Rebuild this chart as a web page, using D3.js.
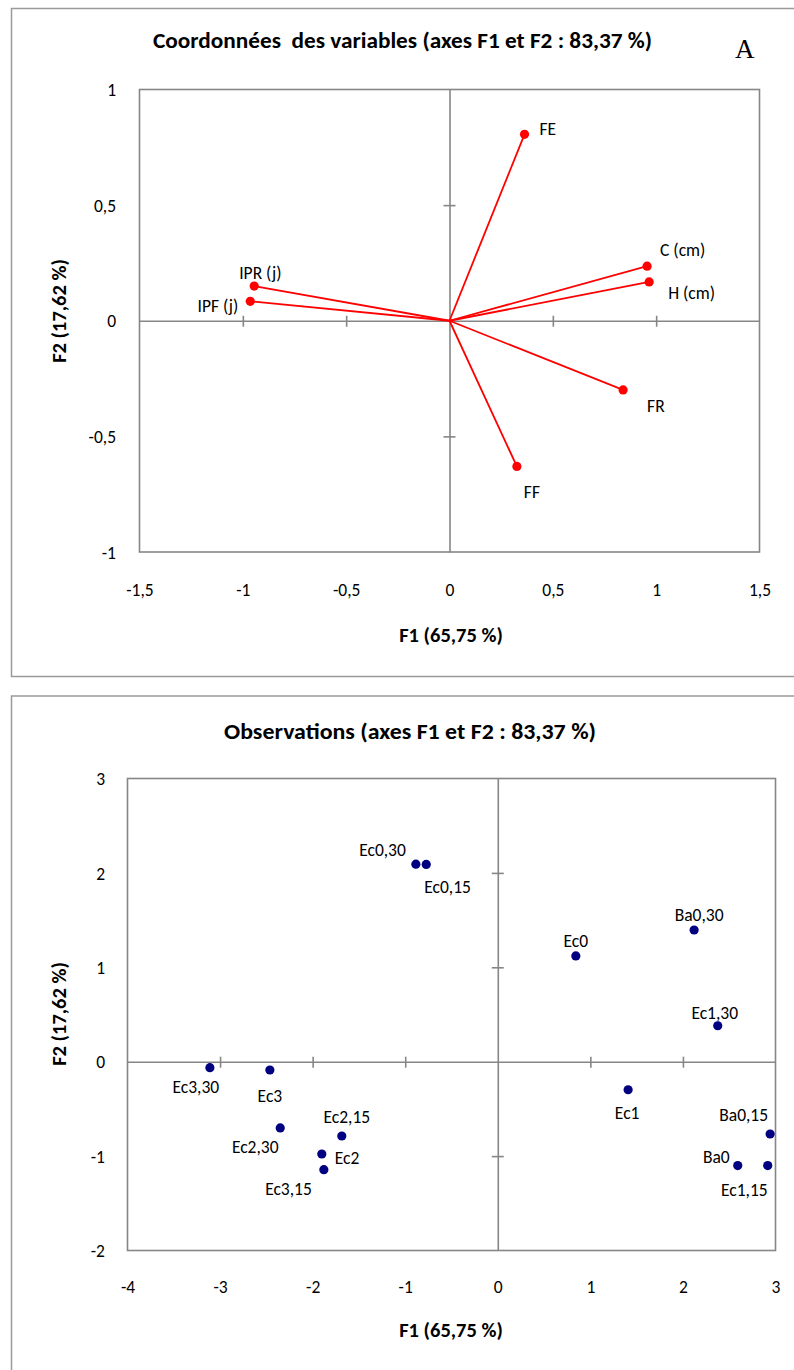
<!DOCTYPE html>
<html>
<head>
<meta charset="utf-8">
<script src="https://cdn.jsdelivr.net/npm/d3@7"></script>
<style>
  html, body { margin: 0; padding: 0; background: #fff; }
  svg { display: block; }
  text { font-family: Carlito, Calibri, "Open Sans", sans-serif; fill: #000; }
</style>
</head>
<body>
<svg id="chart" width="794" height="1370"></svg>
<script>
// ---------- DATA ----------
// Chart A: variable coordinates (correlation circle)
const varNames = ["FE", "C (cm)", "H (cm)", "FR", "FF", "IPR (j)", "IPF (j)"];
const varF1 = [0.363, 0.956, 0.966, 0.840, 0.326, -0.945, -0.964];
const varF2 = [0.806, 0.236, 0.168, -0.299, -0.630, 0.150, 0.084];

// Chart B: observations
const obsNames = ["Ec0,30", "Ec0,15", "Ec0", "Ba0,30", "Ec1,30", "Ec1", "Ba0,15", "Ba0", "Ec1,15",
                  "Ec3,30", "Ec3", "Ec2,30", "Ec2,15", "Ec2", "Ec3,15"];
const obsF1 = [-0.885, -0.773, 0.843, 2.121, 2.376, 1.408, 2.942, 2.592, 2.916,
               -3.110, -2.462, -2.350, -1.685, -1.901, -1.879];
const obsF2 = [2.092, 2.090, 1.120, 1.395, 0.381, -0.297, -0.766, -1.100, -1.100,
               -0.063, -0.088, -0.702, -0.787, -0.978, -1.144];

// Tick values / labels
const topXTicks = [-1.5, -1, -0.5, 0, 0.5, 1, 1.5];
const topYTicks = [-1, -0.5, 0, 0.5, 1];
const botXTicks = [-4, -3, -2, -1, 0, 1, 2, 3];
const botYTicks = [-2, -1, 0, 1, 2, 3];

const titleTop = "Coordonnées  des variables (axes F1 et F2 : 83,37 %)";
const titleBot = "Observations (axes F1 et F2 : 83,37 %)";
const axisF1 = "F1 (65,75 %)";
const axisF2 = "F2 (17,62 %)";
const panelLetter = "A";

// ---------- LABEL PLACEMENT (style) ----------
const varLabelPos = {
  "FE": ["start", 15, -5], "C (cm)": ["start", 13, -16], "H (cm)": ["start", 19, 11],
  "FR": ["start", 24, 16], "FF": ["start", 7, 26], "IPR (j)": ["start", -15, -13],
  "IPF (j)": ["end", -12, 5]
};
const obsLabelPos = {
  "Ec0,30": ["end", -10, -14], "Ec0,15": ["start", -2, 23], "Ec0": ["middle", 0, -15],
  "Ba0,30": ["middle", 5, -15], "Ec1,30": ["middle", -3, -13], "Ec1": ["middle", -1, 23],
  "Ba0,15": ["end", -2, -19], "Ba0": ["end", -8, -9], "Ec1,15": ["end", 0, 24],
  "Ec3,30": ["middle", -14, 19], "Ec3": ["middle", 0, 26], "Ec2,30": ["middle", -25, 19],
  "Ec2,15": ["middle", 5, -19], "Ec2": ["start", 13, 4], "Ec3,15": ["end", -12, 19]
};

const fmt = v => String(v).replace(".", ",");
const GRAY = "#868686";
const LABEL_SIZE = 17.5;
const svg = d3.select("#chart");

// ---------- PANEL BORDERS ----------
svg.append("rect").attr("x", 11.5).attr("y", 8.5).attr("width", 800).attr("height", 668)
  .attr("fill", "none").attr("stroke", "#9a9a9a").attr("stroke-width", 1.5);
svg.append("rect").attr("x", 11.5).attr("y", 696).attr("width", 800).attr("height", 700)
  .attr("fill", "none").attr("stroke", "#9a9a9a").attr("stroke-width", 1.5);

function drawPanel(cfg) {
  const { x, y, xTicks, yTicks, title, titleX, titleY, titleLen, f1Y, f2Y, xLabY, yLabX, innerX, innerY } = cfg;
  const g = svg.append("g");
  const [x0, x1] = x.range();
  const [y0, y1] = y.range(); // y0 bottom, y1 top

  // frame
  g.append("rect").attr("x", x0).attr("y", y1).attr("width", x1 - x0).attr("height", y0 - y1)
    .attr("fill", "none").attr("stroke", GRAY).attr("stroke-width", 1.6);

  // central axes through 0 with crossing ticks
  const hx = g.append("g").attr("transform", `translate(0,${y(0)})`)
    .call(d3.axisBottom(x).tickValues(innerX).tickSizeOuter(0).tickFormat(""));
  const vy = g.append("g").attr("transform", `translate(${x(0)},0)`)
    .call(d3.axisLeft(y).tickValues(innerY).tickSizeOuter(0).tickFormat(""));
  [hx, vy].forEach(a => {
    a.select(".domain").attr("stroke", GRAY).attr("stroke-width", 1.6);
    a.selectAll(".tick line").attr("stroke", GRAY).attr("stroke-width", 1.6);
  });
  hx.selectAll(".tick line").attr("y1", -5).attr("y2", 6);
  vy.selectAll(".tick line").attr("x1", -6).attr("x2", 6);

  // outer tick labels
  const xl = g.append("g").attr("transform", `translate(0,${xLabY})`)
    .call(d3.axisBottom(x).tickValues(xTicks).tickSize(0).tickPadding(0).tickFormat(fmt));
  xl.select(".domain").remove();
  xl.selectAll("text").attr("font-size", LABEL_SIZE).attr("dy", "0.35em").attr("y", 0)
    .style("font-family", 'Carlito, Calibri, "Open Sans", sans-serif');
  const yl = g.append("g").attr("transform", `translate(${yLabX},0)`)
    .call(d3.axisLeft(y).tickValues(yTicks).tickSize(0).tickPadding(0).tickFormat(fmt));
  yl.select(".domain").remove();
  yl.selectAll("text").attr("font-size", LABEL_SIZE).attr("x", 0).attr("dy", "0.35em")
    .style("font-family", 'Carlito, Calibri, "Open Sans", sans-serif');

  // title
  g.append("text").attr("x", titleX).attr("y", titleY).attr("text-anchor", "middle")
    .attr("font-weight", "bold").attr("font-size", 22).style("white-space", "pre")
    .attr("textLength", titleLen).attr("lengthAdjust", "spacingAndGlyphs").text(title);
  // axis titles
  g.append("text").attr("x", 451).attr("y", f1Y).attr("text-anchor", "middle")
    .attr("dominant-baseline", "central").attr("font-weight", "bold").attr("font-size", 20.5)
    .text(axisF1);
  g.append("text").attr("transform", `translate(59,${f2Y}) rotate(-90)`).attr("text-anchor", "middle")
    .attr("dominant-baseline", "central").attr("font-weight", "bold").attr("font-size", 20.5)
    .text(axisF2);
  return g;
}

// ---------- TOP CHART ----------
const xT = d3.scaleLinear().domain([-1.5, 1.5]).range([139.5, 759.5]);
const yT = d3.scaleLinear().domain([-1, 1]).range([552, 89.5]);
const gT = drawPanel({
  x: xT, y: yT, xTicks: topXTicks, yTicks: topYTicks,
  innerX: [-1, -0.5, 0.5, 1], innerY: [-0.5, 0.5],
  title: titleTop, titleX: 402.5, titleY: 48, titleLen: 499,
  f1Y: 635, f2Y: 311, xLabY: 590, yLabX: 116
});
svg.append("text").attr("x", 735).attr("y", 58).attr("font-size", 27)
  .style("font-family", '"Liberation Serif", "Times New Roman", serif').text(panelLetter);

const vars = varNames.map((n, i) => ({ name: n, f1: varF1[i], f2: varF2[i] }));
gT.append("g").selectAll("line").data(vars).join("line")
  .attr("x1", xT(0)).attr("y1", yT(0)).attr("x2", d => xT(d.f1)).attr("y2", d => yT(d.f2))
  .attr("stroke", "#ff0000").attr("stroke-width", 1.8);
gT.append("g").selectAll("circle").data(vars).join("circle")
  .attr("cx", d => xT(d.f1)).attr("cy", d => yT(d.f2)).attr("r", 4.6).attr("fill", "#ff0000");
gT.append("g").selectAll("text").data(vars).join("text")
  .attr("x", d => xT(d.f1) + varLabelPos[d.name][1])
  .attr("y", d => yT(d.f2) + varLabelPos[d.name][2])
  .attr("text-anchor", d => varLabelPos[d.name][0])
  .attr("dominant-baseline", "central").attr("font-size", LABEL_SIZE).text(d => d.name);

// ---------- BOTTOM CHART ----------
const xB = d3.scaleLinear().domain([-4, 3]).range([127.5, 775.5]);
const yB = d3.scaleLinear().domain([-2, 3]).range([1250.5, 778.5]);
const gB = drawPanel({
  x: xB, y: yB, xTicks: botXTicks, yTicks: botYTicks,
  innerX: [-3, -2, -1, 1, 2], innerY: [-1, 1, 2],
  title: titleBot, titleX: 410, titleY: 739, titleLen: 372,
  f1Y: 1330, f2Y: 1014, xLabY: 1287, yLabX: 105
});
const obs = obsNames.map((n, i) => ({ name: n, f1: obsF1[i], f2: obsF2[i] }));
gB.append("g").selectAll("circle").data(obs).join("circle")
  .attr("cx", d => xB(d.f1)).attr("cy", d => yB(d.f2)).attr("r", 4.6).attr("fill", "#000080");
gB.append("g").selectAll("text").data(obs).join("text")
  .attr("x", d => xB(d.f1) + obsLabelPos[d.name][1])
  .attr("y", d => yB(d.f2) + obsLabelPos[d.name][2])
  .attr("text-anchor", d => obsLabelPos[d.name][0])
  .attr("dominant-baseline", "central").attr("font-size", LABEL_SIZE).text(d => d.name);
</script>
</body>
</html>
